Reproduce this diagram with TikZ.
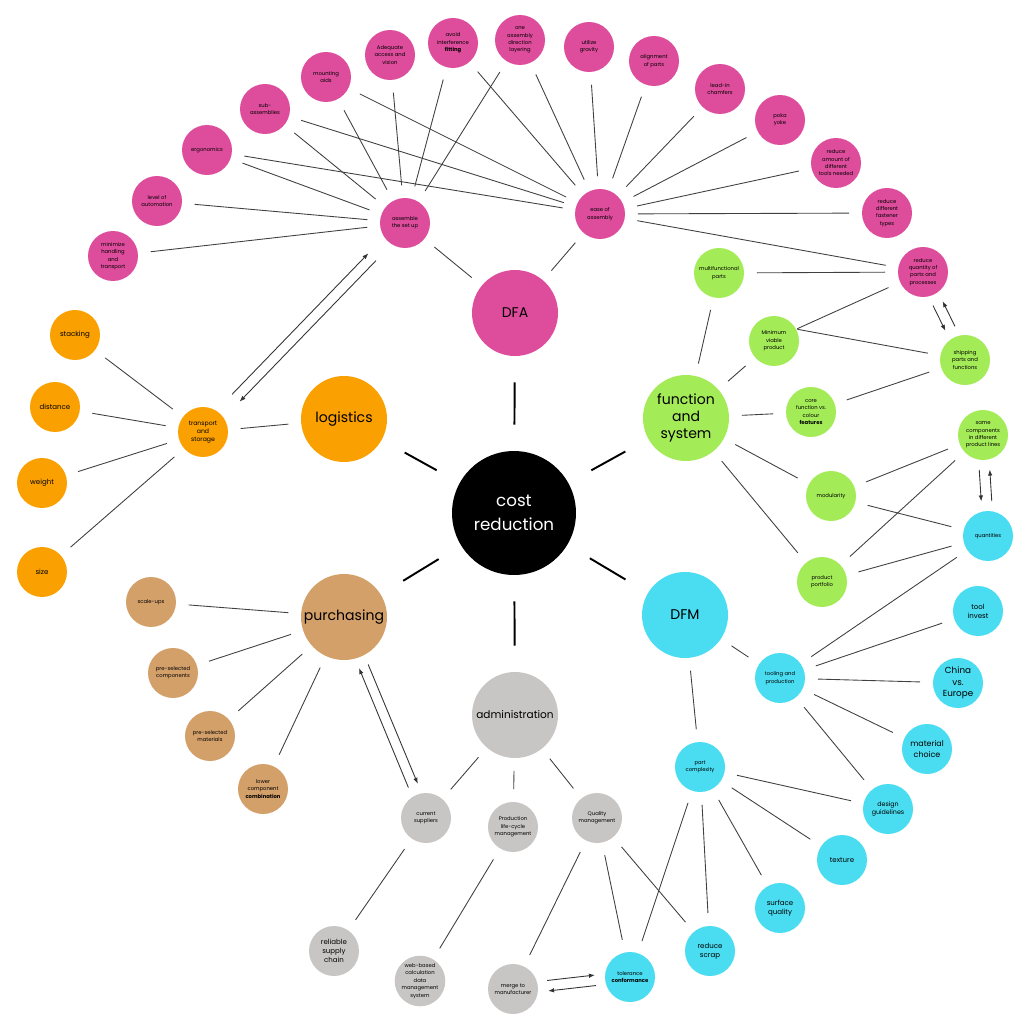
\documentclass[tikz,border=0pt]{standalone}
\usepackage{fontspec}
\setmainfont{Poppins}
\usetikzlibrary{arrows.meta,positioning,calc}
\definecolor{dfapink}{HTML}{DE4C9C}
\definecolor{fsgreen}{HTML}{A3EB57}
\definecolor{dfmcyan}{HTML}{4ADCF0}
\definecolor{logorange}{HTML}{FAA000}
\definecolor{purtan}{HTML}{D4A06A}
\definecolor{admgrey}{HTML}{C8C6C4}
\tikzset{
    hub/.style={circle, fill=black, text=white, minimum size=2.48cm, inner sep=0pt, align=center, font=\fontsize{9.5}{14}\selectfont},
    topic/.style={circle, minimum size=1.72cm, inner sep=0pt, align=center, font=\fontsize{8}{9.6}\selectfont},
    leaf/.style={circle, minimum size=1cm, inner sep=0pt, align=center, font=\fontsize{3}{4.2}\selectfont},
    bigtext/.style={font=\fontsize{4}{5.2}\selectfont},
    link/.style={black!75, line width=0.5pt, shorten <=0.25cm, shorten >=0.25cm},
    spoke/.style={black, line width=1.1pt, shorten <=0.52cm, shorten >=0.52cm},
    flow/.style={-{Latex[length=1.2mm, width=0.9mm]}, black!80, line width=0.5pt, shorten <=0.2cm, shorten >=0.2cm}
}
\begin{document}
\begin{tikzpicture}[x=0.02cm, y=-0.02cm]
\useasboundingbox (0,0) rectangle (1030,1030);
% centre and topics
\node[hub] (cr) at (514,513) {cost\\reduction};
\node[topic, fill=dfapink] (dfa) at (515,313) {DFA};
\node[topic, fill=fsgreen] (fs) at (686,418) {function\\and\\system};
\node[topic, fill=dfmcyan] (dfm) at (685,615) {DFM};
\node[topic, fill=admgrey, font=\fontsize{6}{7}\selectfont] (adm) at (515,715) {administration};
\node[topic, fill=purtan] (pu) at (344,617) {purchasing};
\node[topic, fill=logorange] (log) at (344,419) {logistics};
\draw[spoke] (cr) -- (dfa);
\draw[spoke] (cr) -- (fs);
\draw[spoke] (cr) -- (dfm);
\draw[spoke] (cr) -- (adm);
\draw[spoke] (cr) -- (pu);
\draw[spoke] (cr) -- (log);
% DFA
\node[leaf, fill=dfapink] (as) at (405,223) {assemble\\the set up};
\node[leaf, fill=dfapink] (ea) at (600,214) {ease of\\assembly};
\node[leaf, fill=dfapink] (mh) at (113,256) {minimize\\handling\\and\\transport};
\node[leaf, fill=dfapink] (la) at (157,201) {level of\\automation};
\node[leaf, fill=dfapink] (er) at (207,150) {ergonomics};
\node[leaf, fill=dfapink] (sa) at (265,109) {sub-\\assemblies};
\node[leaf, fill=dfapink] (ma) at (326,77) {mounting\\aids};
\node[leaf, fill=dfapink] (av) at (390,55) {Adequate\\access and\\vision};
\node[leaf, fill=dfapink] (ai) at (453,43) {avoid\\interference\\\textbf{fitting}};
\node[leaf, fill=dfapink] (od) at (520,40) {one\\assembly\\direction\\layering};
\node[leaf, fill=dfapink] (ug) at (589,47) {utilize\\gravity};
\node[leaf, fill=dfapink] (ap) at (654,61) {alignment\\of parts};
\node[leaf, fill=dfapink] (lc) at (720,89) {lead-in\\chamfers};
\node[leaf, fill=dfapink] (py) at (780,120) {poka\\yoke};
\node[leaf, fill=dfapink] (rt) at (836,163) {reduce\\amount of\\different\\tools needed};
\node[leaf, fill=dfapink] (rf) at (887,213) {reduce\\different\\fastener\\types};
\node[leaf, fill=dfapink] (rq) at (923,272) {reduce\\quantity of\\parts and\\processes};
\draw[link] (dfa) -- (as);
\draw[link] (dfa) -- (ea);
\draw[link] (mh) -- (as);
\draw[link] (la) -- (as);
\draw[link] (er) -- (as);
\draw[link] (er) -- (ea);
\draw[link] (sa) -- (as);
\draw[link] (sa) -- (ea);
\draw[link] (ma) -- (as);
\draw[link] (ma) -- (ea);
\draw[link] (av) -- (as);
\draw[link] (ai) -- (as);
\draw[link] (ai) -- (ea);
\draw[link] (od) -- (as);
\draw[link] (od) -- (ea);
\draw[link] (ug) -- (ea);
\draw[link] (ap) -- (ea);
\draw[link] (lc) -- (ea);
\draw[link] (py) -- (ea);
\draw[link] (rt) -- (ea);
\draw[link] (rf) -- (ea);
\draw[link] (rq) -- (ea);
% logistics
\node[leaf, fill=logorange, font=\fontsize{3.5}{4.6}\selectfont] (ts) at (203,432) {transport\\and\\storage};
\node[leaf, fill=logorange, bigtext] (st) at (75,335) {stacking};
\node[leaf, fill=logorange, bigtext] (di) at (55,407) {distance};
\node[leaf, fill=logorange, bigtext] (we) at (42,483) {weight};
\node[leaf, fill=logorange, bigtext] (si) at (42,572) {size};
\draw[link] (log) -- (ts);
\draw[link] (st) -- (ts);
\draw[link] (di) -- (ts);
\draw[link] (we) -- (ts);
\draw[link] (si) -- (ts);
\draw[flow, shorten <=0.45cm, shorten >=0.45cm] (as.238.7) -- (ts.34.7);
\draw[flow, shorten <=0.45cm, shorten >=0.45cm] (ts.58.7) -- (as.214.7);
% purchasing
\node[leaf, fill=purtan] (p1) at (151,602) {scale-ups};
\node[leaf, fill=purtan] (p2) at (173,673) {pre-selected\\components};
\node[leaf, fill=purtan] (p3) at (210,736) {pre-selected\\materials};
\node[leaf, fill=purtan] (p4) at (263,789) {lower\\component\\\textbf{combination}};
\draw[link] (p1) -- (pu);
\draw[link] (p2) -- (pu);
\draw[link] (p3) -- (pu);
\draw[link] (p4) -- (pu);
% administration
\node[leaf, fill=admgrey] (cs) at (426,818) {current\\suppliers};
\node[leaf, fill=admgrey] (pl) at (513,827) {Production\\life-cycle\\management};
\node[leaf, fill=admgrey] (qm) at (597,818) {Quality\\management};
\node[leaf, fill=admgrey, bigtext] (rs) at (334,951) {reliable\\supply\\chain};
\node[leaf, fill=admgrey] (wd) at (420,981) {web-based\\calculation\\data\\management\\system};
\node[leaf, fill=admgrey] (mm) at (513,989) {merge to\\manufacturer};
\draw[link] (adm) -- (cs);
\draw[link] (adm) -- (pl);
\draw[link] (adm) -- (qm);
\draw[link] (cs) -- (rs);
\draw[link] (pl) -- (wd);
\draw[link] (qm) -- (mm);
\draw[flow] (pu.298.6) -- (cs.100.4);
\draw[flow] (cs.123.4) -- (pu.285.2);
% DFM
\node[leaf, fill=dfmcyan] (tp) at (780,678) {tooling and\\production};
\node[leaf, fill=dfmcyan] (pc) at (700,767) {part\\complexity};
\node[leaf, fill=dfmcyan] (qu) at (988,536) {quantities};
\node[leaf, fill=dfmcyan, bigtext] (ti) at (978,611) {tool\\invest};
\node[leaf, fill=dfmcyan, font=\fontsize{5}{6.5}\selectfont] (ce) at (958,683) {China\\vs.\\Europe};
\node[leaf, fill=dfmcyan, font=\fontsize{4.5}{6}\selectfont] (mc) at (927,749) {material\\choice};
\node[leaf, fill=dfmcyan, font=\fontsize{3.6}{4.8}\selectfont] (dg) at (888,809) {design\\guidelines};
\node[leaf, fill=dfmcyan, bigtext] (tx) at (842,860) {texture};
\node[leaf, fill=dfmcyan, bigtext] (sq) at (780,908) {surface\\quality};
\node[leaf, fill=dfmcyan, bigtext] (rsc) at (710,951) {reduce\\scrap};
\node[leaf, fill=dfmcyan] (tc) at (630,977) {tolerance\\\textbf{conformance}};
\draw[link] (dfm) -- (tp);
\draw[link] (dfm) -- (pc);
\draw[link] (tp) -- (qu);
\draw[link] (tp) -- (ti);
\draw[link] (tp) -- (ce);
\draw[link] (tp) -- (mc);
\draw[link] (tp) -- (dg);
\draw[link] (pc) -- (dg);
\draw[link] (pc) -- (tx);
\draw[link] (pc) -- (sq);
\draw[link] (pc) -- (rsc);
\draw[link] (pc) -- (tc);
\draw[link] (qm) -- (tc);
\draw[link] (qm) -- (rsc);
\draw[flow] (mm.17.4) -- (tc.173.4);
\draw[flow] (tc.197.4) -- (mm.353.4);
% function and system
\node[leaf, fill=fsgreen] (mf) at (719,273) {multifunctional\\parts};
\node[leaf, fill=fsgreen] (mv) at (774,341) {Minimum\\viable\\product};
\node[leaf, fill=fsgreen] (sp) at (965,360) {shipping\\parts and\\functions};
\node[leaf, fill=fsgreen] (cf) at (811,412) {core\\function vs.\\colour\\\textbf{features}};
\node[leaf, fill=fsgreen] (sc) at (983,435) {same\\components\\in different\\product lines};
\node[leaf, fill=fsgreen] (mo) at (831,496) {modularity};
\node[leaf, fill=fsgreen] (pp) at (822,582) {product\\portfolio};
\draw[link] (fs) -- (mf);
\draw[link] (fs) -- (mv);
\draw[link] (fs) -- (cf);
\draw[link] (fs) -- (mo);
\draw[link] (fs) -- (pp);
\draw[link] (mf) -- (rq);
\draw[link, shorten <=0.02cm] (mv.28) -- (rq);
\draw[link, shorten <=0.02cm] (mv.28) -- (sp);
\draw[link] (cf) -- (sp);
\draw[link] (mo) -- (sc);
\draw[link] (mo) -- (qu);
\draw[link] (pp) -- (sc);
\draw[link] (pp) -- (qu);
\draw[flow] (rq.283.5) -- (sp.127.5);
\draw[flow] (sp.103.5) -- (rq.307.5);
\draw[flow] (sc.260.8) -- (qu.104.8);
\draw[flow] (qu.80.8) -- (sc.284.8);
\end{tikzpicture}
\end{document}
